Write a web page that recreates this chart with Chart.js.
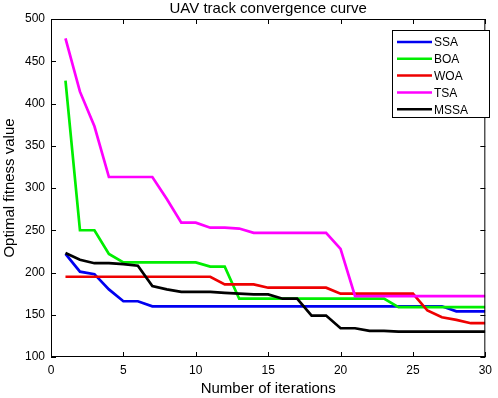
<!DOCTYPE html>
<html>
<head>
<meta charset="utf-8">
<script src="https://cdn.jsdelivr.net/npm/chart.js@4.4.0/dist/chart.umd.min.js"></script>
<style>
  html, body { margin: 0; padding: 0; background: #fff; }
  #wrap { width: 498px; height: 398px; }
</style>
</head>
<body>
<div id="wrap"><canvas id="chart_uav"></canvas></div>
<script>
// values
const iterations = [1, 2, 3, 4, 5, 6, 7, 8, 9, 10, 11, 12, 13, 14, 15, 16, 17, 18, 19, 20, 21, 22, 23, 24, 25, 26, 27, 28, 29, 30];
const ssa = [222, 201, 198, 180, 166, 166, 160, 160, 160, 160, 160, 160, 160, 160, 160, 160, 160, 160, 160, 160, 160, 160, 160, 160, 160, 160, 160, 154, 154, 154];
const boa = [427, 250, 250, 222, 212, 212, 212, 212, 212, 212, 207, 207, 169, 169, 169, 169, 169, 169, 169, 169, 169, 169, 169, 159, 159, 159, 159, 159, 159, 159];
const woa = [195, 195, 195, 195, 195, 195, 195, 195, 195, 195, 195, 186, 186, 186, 182, 182, 182, 182, 182, 175, 175, 175, 175, 175, 175, 155, 147, 144, 140, 140];
const tsa = [477, 414, 373, 313, 313, 313, 313, 287, 259, 259, 253, 253, 252, 247, 247, 247, 247, 247, 247, 228, 172, 172, 172, 172, 172, 172, 172, 172, 172, 172];
const mssa = [223, 215, 211, 211, 210, 208, 184, 180, 177, 177, 177, 176, 175, 174, 174, 169, 169, 149, 149, 134, 134, 131, 131, 130, 130, 130, 130, 130, 130, 130];

const seriesNames = ["SSA", "BOA", "WOA", "TSA", "MSSA"];
const seriesValues = [ssa, boa, woa, tsa, mssa];
const seriesColors = ["#0000f0", "#00ee00", "#ee0000", "#ff00ff", "#000000"];

const FONT = "'Liberation Sans', Arial, sans-serif";

// box round the plot, matlab style ticks pointing inward, and the legend
const boxPlugin = {
  id: "matlabBox",
  afterDatasetsDraw(chart) {
    const ctx = chart.ctx;
    const a = chart.chartArea;
    const xs = chart.scales.x;
    const ys = chart.scales.y;
    ctx.save();
    ctx.strokeStyle = "#000";
    ctx.lineWidth = 1;
    ctx.strokeRect(a.left + 0.5, a.top + 0.5, a.right - a.left - 1, a.bottom - a.top - 1);
    ctx.beginPath();
    xs.ticks.forEach((t) => {
      const px = Math.round(xs.getPixelForValue(t.value)) + 0.5;
      ctx.moveTo(px, a.bottom);
      ctx.lineTo(px, a.bottom - 5);
      ctx.moveTo(px, a.top);
      ctx.lineTo(px, a.top + 5);
    });
    ys.ticks.forEach((t) => {
      const py = Math.round(ys.getPixelForValue(t.value)) + 0.5;
      ctx.moveTo(a.left, py);
      ctx.lineTo(a.left + 5, py);
      ctx.moveTo(a.right, py);
      ctx.lineTo(a.right - 5, py);
    });
    ctx.stroke();

    // legend
    const lx = 392, ly = 30, lw = 97, lh = 87;
    ctx.fillStyle = "#fff";
    ctx.fillRect(lx, ly, lw, lh);
    ctx.strokeRect(lx + 0.5, ly + 0.5, lw, lh);
    ctx.font = "12px " + FONT;
    ctx.textBaseline = "middle";
    chart.data.datasets.forEach((ds, i) => {
      const yy = ly + 12 + i * 16.8;
      ctx.strokeStyle = ds.borderColor;
      ctx.lineWidth = 2.5;
      ctx.beginPath();
      ctx.moveTo(lx + 5, yy);
      ctx.lineTo(lx + 40, yy);
      ctx.stroke();
      ctx.fillStyle = "#000";
      ctx.fillText(ds.label, lx + 42, yy + 1);
    });
    ctx.restore();
  },
};

const ctx = document.getElementById("chart_uav").getContext("2d");

const myChart = new Chart(ctx, {
  type: "line",
  data: {
    datasets: seriesNames.map((name, i) => ({
      label: name,
      data: iterations.map((it, k) => ({ x: it, y: seriesValues[i][k] })),
      borderColor: seriesColors[i],
      backgroundColor: seriesColors[i],
      borderWidth: 2.7,
      pointRadius: 0,
      tension: 0,
      fill: false,
      order: seriesNames.length - i,
    })),
  },
  options: {
    responsive: true,
    maintainAspectRatio: false,
    animation: false,
    layout: {
      padding: { top: 19, right: 8, left: 1, bottom: 0 },
    },
    plugins: {
      legend: { display: false },
      tooltip: { enabled: false },
      title: { display: false },
    },
    scales: {
      x: {
        type: "linear",
        min: 0,
        max: 30,
        grid: { display: false, drawTicks: false },
        border: { display: false },
        ticks: {
          stepSize: 5,
          color: "#000",
          padding: 6,
          font: { family: FONT, size: 12 },
          maxRotation: 0,
        },
        title: {
          display: true,
          text: "Number of iterations",
          color: "#000",
          padding: { top: 2, bottom: 0 },
          font: { family: FONT, size: 15 },
        },
        afterFit: (s) => {
          s.height = 41;
        },
      },
      y: {
        min: 100,
        max: 500,
        grid: { display: false, drawTicks: false },
        border: { display: false },
        ticks: {
          stepSize: 50,
          color: "#000",
          padding: 6,
          font: { family: FONT, size: 12 },
        },
        title: {
          display: true,
          text: "Optimal fitness value",
          color: "#000",
          padding: 0,
          font: { family: FONT, size: 15 },
        },
        afterFit: (s) => {
          s.width = 50;
        },
      },
    },
  },
  plugins: [
    boxPlugin,
    {
      id: "topTitle",
      afterDraw(chart) {
        const c = chart.ctx;
        const a = chart.chartArea;
        c.save();
        c.font = "15px " + FONT;
        c.fillStyle = "#000";
        c.textAlign = "center";
        c.textBaseline = "middle";
        c.fillText("UAV track convergence curve", (a.left + a.right) / 2, 9);
        c.restore();
      },
    },
  ],
});
</script>
</body>
</html>
